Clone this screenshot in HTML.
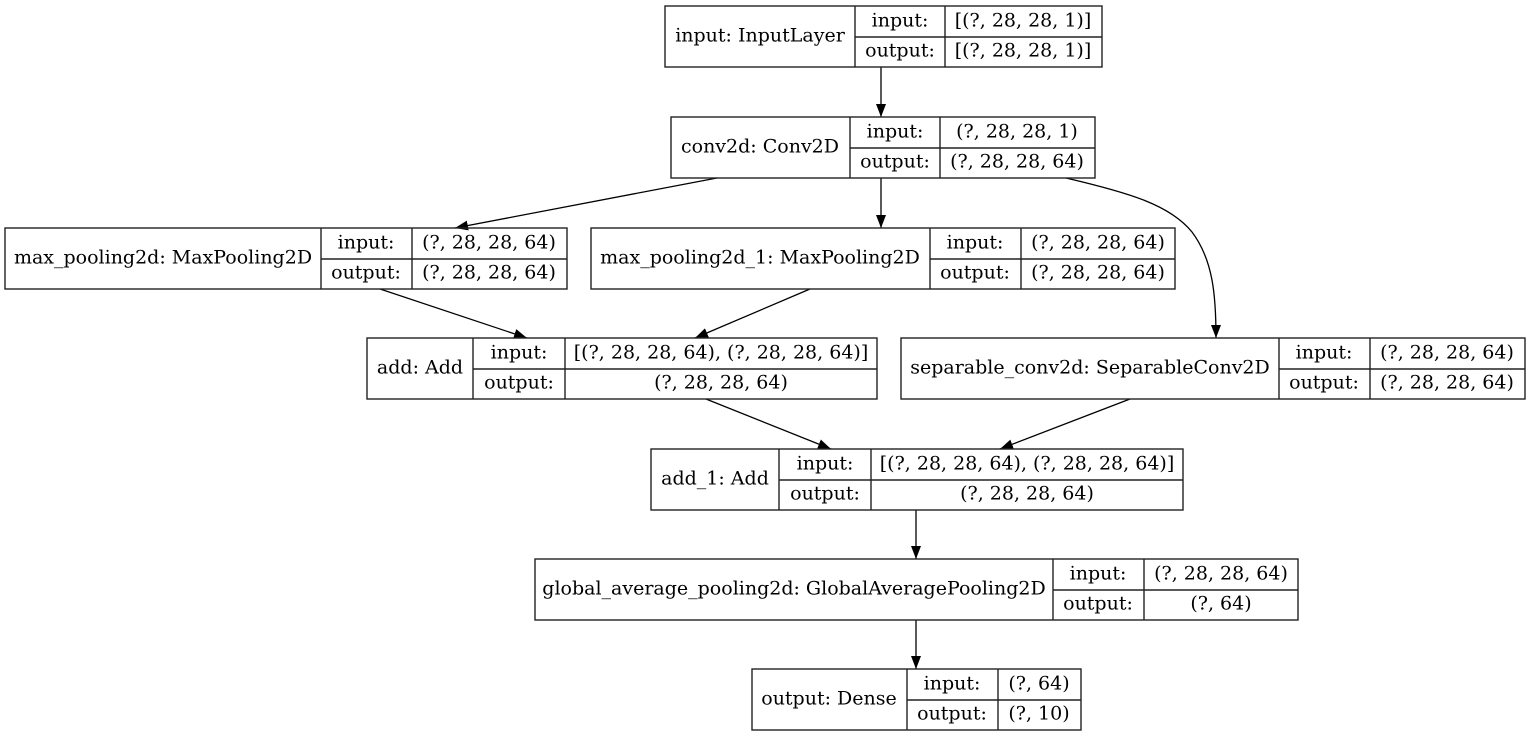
<!DOCTYPE html>
<html><head><meta charset="utf-8"><style>
html,body{margin:0;padding:0;background:#fff;}
svg{display:block;}
text{font-family:"DejaVu Serif","Liberation Serif",serif;font-size:19px;fill:#000;}
</style></head><body>
<svg width="1530" height="737" viewBox="0 0 1530 737" xmlns="http://www.w3.org/2000/svg">
<defs><marker id="a" markerWidth="13" markerHeight="10" refX="13" refY="5" orient="auto" markerUnits="userSpaceOnUse"><path d="M0,0 L13,5 L0,10 z" fill="#000"/></marker></defs>
<g fill="none" stroke="#000" stroke-width="1.3">
<line x1="881" y1="67" x2="881" y2="117" marker-end="url(#a)"/>
<line x1="717" y1="178" x2="455" y2="228" marker-end="url(#a)"/>
<line x1="881" y1="178" x2="881" y2="228" marker-end="url(#a)"/>
<path d="M1066,178 C1130,193 1170,205 1192,232 C1213,260 1216,295 1216,338" marker-end="url(#a)"/>
<line x1="380" y1="289" x2="527" y2="338" marker-end="url(#a)"/>
<line x1="810" y1="289" x2="695" y2="338" marker-end="url(#a)"/>
<line x1="706" y1="399" x2="831" y2="449" marker-end="url(#a)"/>
<line x1="1130" y1="399" x2="1000" y2="449" marker-end="url(#a)"/>
<line x1="916" y1="510" x2="916" y2="559" marker-end="url(#a)"/>
<line x1="916" y1="620" x2="916" y2="669" marker-end="url(#a)"/>
</g>
<g fill="none" stroke="#222" stroke-width="1.4">
<rect x="665" y="6" width="437" height="61"/><line x1="855" y1="6" x2="855" y2="67"/><line x1="945" y1="6" x2="945" y2="67"/><line x1="855" y1="37" x2="1102" y2="37"/>
<rect x="671" y="117" width="424" height="61"/><line x1="850" y1="117" x2="850" y2="178"/><line x1="940" y1="117" x2="940" y2="178"/><line x1="850" y1="148" x2="1095" y2="148"/>
<rect x="5" y="228" width="562" height="61"/><line x1="321" y1="228" x2="321" y2="289"/><line x1="412" y1="228" x2="412" y2="289"/><line x1="321" y1="259" x2="567" y2="259"/>
<rect x="591" y="228" width="584" height="61"/><line x1="930" y1="228" x2="930" y2="289"/><line x1="1021" y1="228" x2="1021" y2="289"/><line x1="930" y1="259" x2="1175" y2="259"/>
<rect x="367" y="338" width="510" height="61"/><line x1="473" y1="338" x2="473" y2="399"/><line x1="565" y1="338" x2="565" y2="399"/><line x1="473" y1="369" x2="877" y2="369"/>
<rect x="901" y="338" width="624" height="61"/><line x1="1279" y1="338" x2="1279" y2="399"/><line x1="1370" y1="338" x2="1370" y2="399"/><line x1="1279" y1="369" x2="1525" y2="369"/>
<rect x="651" y="449" width="532" height="61"/><line x1="779" y1="449" x2="779" y2="510"/><line x1="871" y1="449" x2="871" y2="510"/><line x1="779" y1="480" x2="1183" y2="480"/>
<rect x="535" y="559" width="763" height="61"/><line x1="1053" y1="559" x2="1053" y2="620"/><line x1="1144" y1="559" x2="1144" y2="620"/><line x1="1053" y1="590" x2="1298" y2="590"/>
<rect x="752" y="669" width="329" height="61"/><line x1="907" y1="669" x2="907" y2="730"/><line x1="998" y1="669" x2="998" y2="730"/><line x1="907" y1="700" x2="1081" y2="700"/>
</g>
<g text-anchor="middle" transform="translate(0,-1.5)">
<text x="760" y="43">input: InputLayer</text><text x="900" y="28">input:</text><text x="900" y="58">output:</text><text x="1023" y="28">[(?, 28, 28, 1)]</text><text x="1023" y="58">[(?, 28, 28, 1)]</text>
<text x="760" y="154">conv2d: Conv2D</text><text x="895" y="139">input:</text><text x="895" y="169">output:</text><text x="1017" y="139">(?, 28, 28, 1)</text><text x="1017" y="169">(?, 28, 28, 64)</text>
<text x="163" y="265">max_pooling2d: MaxPooling2D</text><text x="366" y="250">input:</text><text x="366" y="280">output:</text><text x="489" y="250">(?, 28, 28, 64)</text><text x="489" y="280">(?, 28, 28, 64)</text>
<text x="760" y="265">max_pooling2d_1: MaxPooling2D</text><text x="975" y="250">input:</text><text x="975" y="280">output:</text><text x="1098" y="250">(?, 28, 28, 64)</text><text x="1098" y="280">(?, 28, 28, 64)</text>
<text x="420" y="375">add: Add</text><text x="519" y="360">input:</text><text x="519" y="390">output:</text><text x="721" y="360">[(?, 28, 28, 64), (?, 28, 28, 64)]</text><text x="721" y="390">(?, 28, 28, 64)</text>
<text x="1090" y="375">separable_conv2d: SeparableConv2D</text><text x="1324" y="360">input:</text><text x="1324" y="390">output:</text><text x="1447" y="360">(?, 28, 28, 64)</text><text x="1447" y="390">(?, 28, 28, 64)</text>
<text x="715" y="486">add_1: Add</text><text x="825" y="471">input:</text><text x="825" y="501">output:</text><text x="1027" y="471">[(?, 28, 28, 64), (?, 28, 28, 64)]</text><text x="1027" y="501">(?, 28, 28, 64)</text>
<text x="794" y="596">global_average_pooling2d: GlobalAveragePooling2D</text><text x="1098" y="581">input:</text><text x="1098" y="611">output:</text><text x="1221" y="581">(?, 28, 28, 64)</text><text x="1221" y="611">(?, 64)</text>
<text x="829" y="706">output: Dense</text><text x="952" y="691">input:</text><text x="952" y="721">output:</text><text x="1039" y="691">(?, 64)</text><text x="1039" y="721">(?, 10)</text>
</g>
</svg>
</body></html>
